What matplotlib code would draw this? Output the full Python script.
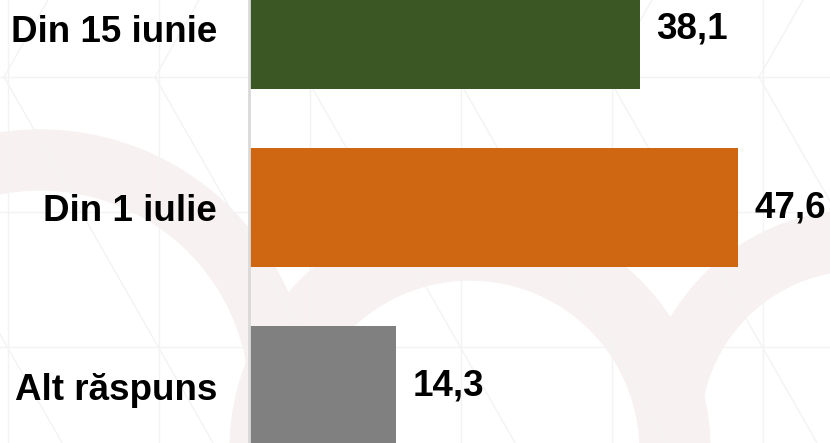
import numpy as np
import matplotlib.pyplot as plt
from matplotlib.patches import Wedge

categorii = ['Din 15 iunie', 'Din 1 iulie', 'Alt răspuns']
valori = [38.1, 47.6, 14.3]
etichete = ['38,1', '47,6', '14,3']
culori = ['#3b5724', '#cf6611', '#808080']

plt.rcParams['font.family'] = ['Liberation Sans', 'DejaVu Sans']

fig = plt.figure(figsize=(8.3, 4.43), dpi=100)
fig.patch.set_facecolor('white')

# fundal: model discret de linii + inele (watermark)
bg = fig.add_axes([0, 0, 1, 1], zorder=0)
bg.set_xlim(0, 830)
bg.set_ylim(443, 0)
bg.axis('off')
lc = '#f3f3f3'
for x in np.arange(8, 830, 151):
    bg.axvline(x, color=lc, lw=1)
for y in np.arange(77 - 135, 443, 135):
    bg.axhline(y, color=lc, lw=1)
for x0 in np.arange(-600, 1400, 151):
    xs = np.array([x0, x0 + 600])
    bg.plot(xs, 77 + (xs - x0) * 1.75, color=lc, lw=1)
    bg.plot(xs, 77 - (xs - x0) * 1.75, color=lc, lw=1)
pink = '#f8f1f1'
bg.add_patch(Wedge((40, 400), 270, 0, 360, width=60, color=pink, zorder=-1))
bg.add_patch(Wedge((470, 450), 240, 0, 360, width=70, color=pink, zorder=-1))
bg.add_patch(Wedge((860, 430), 220, 0, 360, width=60, color=pink, zorder=-1))

ax = fig.add_axes([249 / 830, 0, 581 / 830, 1], zorder=1)
ax.patch.set_alpha(0)
y = np.arange(len(categorii))
ax.barh(y, valori, height=0.67, color=culori)
ax.set_ylim(2.318, -0.162)
ax.set_xlim(0, 56.6)

for yi, v, t in zip(y, valori, etichete):
    ax.text(v + 1.6, yi, t, va='center', ha='left', fontsize=26.5, fontweight='bold')

ax.set_yticks(y)
ax.set_yticklabels(categorii, fontsize=26.5, fontweight='bold')
ax.tick_params(axis='y', length=0, pad=23)
ax.set_xticks([])
for s in ['top', 'right', 'bottom']:
    ax.spines[s].set_visible(False)
ax.spines['left'].set_color('#d9d9d9')
ax.spines['left'].set_linewidth(2)

fig.savefig('out.png', dpi=100)
